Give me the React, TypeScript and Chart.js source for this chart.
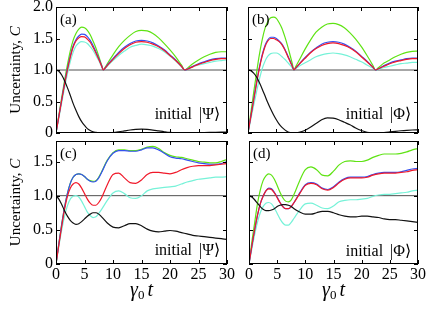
import React, { useEffect, useRef, useState } from "react";
import { Chart, registerables } from "chart.js";
Chart.register(...registerables);

const FONT = "'Liberation Serif', 'Times New Roman', Times, serif";

// ---------- data ----------
// panel (a): initial |Psi>
const tA = [0, 0.5, 1, 1.5, 2, 2.5, 3, 3.5, 4, 4.5, 5, 5.5, 6, 6.5, 7, 7.5, 8, 8.3, 8.6, 9, 10, 11, 12, 13, 14, 15, 16, 17, 18, 19, 20, 21, 22, 22.6, 23.2, 24, 25, 26, 27, 28, 29, 30];
const aGreen = [0, 0.28, 0.56, 0.83, 1.08, 1.3, 1.47, 1.58, 1.65, 1.68, 1.67, 1.63, 1.56, 1.46, 1.35, 1.22, 1.08, 1.0, 1.04, 1.1, 1.24, 1.37, 1.47, 1.55, 1.61, 1.63, 1.62, 1.58, 1.51, 1.42, 1.32, 1.21, 1.08, 1.0, 1.04, 1.1, 1.16, 1.21, 1.25, 1.28, 1.29, 1.29];
const aBlue = [0, 0.27, 0.53, 0.79, 1.02, 1.22, 1.38, 1.48, 1.54, 1.57, 1.565, 1.53, 1.47, 1.39, 1.29, 1.185, 1.07, 1.0, 1.03, 1.08, 1.18, 1.28, 1.36, 1.42, 1.46, 1.47, 1.46, 1.43, 1.38, 1.32, 1.24, 1.16, 1.06, 1.0, 1.02, 1.06, 1.1, 1.13, 1.16, 1.18, 1.19, 1.19];
const aRed = [0, 0.26, 0.52, 0.77, 1.0, 1.2, 1.36, 1.46, 1.51, 1.53, 1.525, 1.49, 1.44, 1.36, 1.27, 1.17, 1.065, 1.0, 1.03, 1.07, 1.17, 1.26, 1.34, 1.4, 1.44, 1.45, 1.44, 1.41, 1.37, 1.31, 1.23, 1.15, 1.06, 1.0, 1.02, 1.05, 1.09, 1.12, 1.15, 1.17, 1.18, 1.18];
const aCyan = [0, 0.24, 0.48, 0.72, 0.94, 1.13, 1.28, 1.38, 1.43, 1.45, 1.445, 1.42, 1.37, 1.31, 1.23, 1.15, 1.055, 1.0, 1.025, 1.06, 1.15, 1.23, 1.3, 1.36, 1.39, 1.41, 1.4, 1.38, 1.34, 1.29, 1.22, 1.14, 1.05, 1.0, 1.02, 1.05, 1.08, 1.1, 1.12, 1.14, 1.15, 1.16];
const aBlack = [1, 0.98, 0.92, 0.83, 0.72, 0.6, 0.47, 0.36, 0.26, 0.18, 0.12, 0.07, 0.04, 0.02, 0.01, 0.003, 0, 0, 0, 0.001, 0.006, 0.018, 0.033, 0.048, 0.058, 0.06, 0.056, 0.046, 0.033, 0.02, 0.009, 0.003, 0, 0, 0, 0.001, 0.003, 0.006, 0.009, 0.012, 0.014, 0.015];

// panel (b): initial |Phi>
const tB = [0, 0.5, 1, 1.5, 2, 2.5, 3, 3.5, 4, 4.5, 5, 5.5, 6, 6.5, 7, 7.5, 7.8, 8.1, 8.4, 9, 10, 11, 12, 13, 14, 15, 16, 17, 18, 19, 20, 21, 22, 22.5, 23, 24, 25, 26, 27, 28, 29, 30];
const bGreen = [0, 0.32, 0.64, 0.95, 1.24, 1.48, 1.66, 1.77, 1.83, 1.84, 1.82, 1.75, 1.66, 1.53, 1.38, 1.21, 1.107, 1.0, 1.05, 1.15, 1.32, 1.47, 1.6, 1.68, 1.73, 1.74, 1.72, 1.67, 1.59, 1.49, 1.37, 1.23, 1.08, 1.0, 1.035, 1.11, 1.16, 1.21, 1.25, 1.28, 1.295, 1.3];
const bBlue = [0, 0.27, 0.54, 0.8, 1.04, 1.24, 1.39, 1.48, 1.52, 1.52, 1.5, 1.46, 1.41, 1.33, 1.23, 1.13, 1.066, 1.0, 1.03, 1.09, 1.19, 1.28, 1.35, 1.41, 1.44, 1.45, 1.44, 1.41, 1.36, 1.3, 1.22, 1.14, 1.05, 1.0, 1.02, 1.07, 1.11, 1.14, 1.16, 1.18, 1.19, 1.19];
const bRed = [0, 0.26, 0.52, 0.78, 1.02, 1.22, 1.37, 1.46, 1.5, 1.5, 1.48, 1.45, 1.4, 1.32, 1.22, 1.12, 1.065, 1.0, 1.03, 1.09, 1.18, 1.27, 1.34, 1.39, 1.42, 1.43, 1.42, 1.39, 1.35, 1.29, 1.21, 1.13, 1.05, 1.0, 1.02, 1.06, 1.1, 1.13, 1.15, 1.17, 1.18, 1.18];
const bCyan = [0, 0.22, 0.44, 0.65, 0.85, 1.02, 1.14, 1.22, 1.26, 1.27, 1.27, 1.25, 1.21, 1.17, 1.12, 1.07, 1.035, 1.0, 1.02, 1.06, 1.11, 1.16, 1.21, 1.24, 1.26, 1.27, 1.26, 1.24, 1.21, 1.17, 1.13, 1.08, 1.03, 1.0, 1.01, 1.04, 1.06, 1.08, 1.1, 1.11, 1.12, 1.12];
const bBlack = [1, 0.99, 0.95, 0.89, 0.8, 0.7, 0.59, 0.48, 0.38, 0.29, 0.21, 0.14, 0.09, 0.05, 0.02, 0.006, 0.002, 0, 0.002, 0.01, 0.04, 0.09, 0.15, 0.21, 0.24, 0.235, 0.21, 0.17, 0.13, 0.08, 0.04, 0.012, 0.002, 0, 0.002, 0.008, 0.017, 0.027, 0.036, 0.043, 0.048, 0.05];

// panels (c) and (d)
const tCD = [0, 0.5, 1, 1.5, 2, 2.5, 3, 3.5, 4, 4.5, 5, 5.5, 6, 6.5, 7, 7.5, 8, 9, 10, 11, 12, 13, 14, 15, 16, 17, 18, 19, 20, 21, 22, 23, 24, 25, 26, 27, 28, 29, 30];
const cGreen = [0, 0.3, 0.58, 0.83, 1.03, 1.18, 1.27, 1.31, 1.32, 1.31, 1.28, 1.24, 1.22, 1.21, 1.22, 1.27, 1.35, 1.52, 1.63, 1.67, 1.67, 1.66, 1.66, 1.68, 1.71, 1.72, 1.69, 1.63, 1.59, 1.57, 1.56, 1.54, 1.52, 1.5, 1.49, 1.48, 1.48, 1.5, 1.53];
const cBlue = [0, 0.3, 0.58, 0.83, 1.03, 1.18, 1.27, 1.31, 1.32, 1.31, 1.28, 1.24, 1.21, 1.2, 1.21, 1.26, 1.34, 1.51, 1.62, 1.66, 1.66, 1.65, 1.65, 1.67, 1.7, 1.7, 1.67, 1.62, 1.57, 1.55, 1.54, 1.52, 1.5, 1.48, 1.47, 1.46, 1.46, 1.47, 1.5];
const cRed = [0, 0.28, 0.55, 0.8, 0.99, 1.11, 1.17, 1.19, 1.17, 1.11, 1.03, 0.95, 0.89, 0.86, 0.86, 0.9, 0.97, 1.16, 1.31, 1.33, 1.26, 1.19, 1.18, 1.23, 1.31, 1.34, 1.34, 1.33, 1.32, 1.34, 1.38, 1.41, 1.43, 1.44, 1.44, 1.44, 1.45, 1.46, 1.47];
const cCyan = [0, 0.26, 0.5, 0.7, 0.85, 0.95, 0.99, 1.0, 0.98, 0.92, 0.84, 0.76, 0.71, 0.68, 0.69, 0.74, 0.8, 0.93, 1.04, 1.07, 1.03, 0.97, 0.96, 1.0, 1.07, 1.1, 1.11, 1.12, 1.13, 1.14, 1.17, 1.2, 1.22, 1.24, 1.25, 1.26, 1.27, 1.27, 1.28];
const cBlack = [1, 0.95, 0.87, 0.78, 0.7, 0.64, 0.6, 0.58, 0.59, 0.62, 0.66, 0.7, 0.73, 0.75, 0.75, 0.73, 0.69, 0.6, 0.54, 0.53, 0.56, 0.59, 0.59, 0.56, 0.51, 0.48, 0.47, 0.48, 0.49, 0.48, 0.46, 0.44, 0.42, 0.41, 0.4, 0.39, 0.38, 0.37, 0.36];

const dGreen = [0, 0.32, 0.6, 0.88, 1.08, 1.22, 1.29, 1.32, 1.3, 1.24, 1.15, 1.05, 0.97, 0.92, 0.91, 0.94, 1.02, 1.22, 1.38, 1.42, 1.38, 1.3, 1.29, 1.36, 1.45, 1.5, 1.51, 1.5, 1.5, 1.52, 1.56, 1.59, 1.61, 1.61, 1.61, 1.62, 1.64, 1.67, 1.69];
const dBlue = [0, 0.26, 0.5, 0.71, 0.88, 0.99, 1.07, 1.11, 1.1, 1.05, 0.98, 0.9, 0.84, 0.81, 0.81, 0.84, 0.9, 1.04, 1.16, 1.19, 1.17, 1.11, 1.09, 1.13, 1.2, 1.25, 1.27, 1.27, 1.27, 1.28, 1.31, 1.33, 1.34, 1.34, 1.34, 1.35, 1.37, 1.39, 1.4];
const dRed = [0, 0.26, 0.5, 0.71, 0.88, 0.99, 1.07, 1.1, 1.09, 1.04, 0.97, 0.9, 0.84, 0.81, 0.81, 0.84, 0.9, 1.03, 1.15, 1.18, 1.16, 1.1, 1.08, 1.12, 1.19, 1.24, 1.26, 1.26, 1.26, 1.27, 1.3, 1.32, 1.33, 1.33, 1.33, 1.34, 1.35, 1.37, 1.38];
const dCyan = [0, 0.22, 0.43, 0.61, 0.75, 0.84, 0.89, 0.9, 0.88, 0.82, 0.74, 0.66, 0.6, 0.57, 0.57, 0.61, 0.67, 0.79, 0.88, 0.89, 0.86, 0.82, 0.81, 0.85, 0.91, 0.93, 0.94, 0.94, 0.95, 0.96, 0.99, 1.01, 1.02, 1.02, 1.03, 1.04, 1.05, 1.07, 1.08];
const dBlack = [1, 0.98, 0.94, 0.89, 0.84, 0.8, 0.78, 0.78, 0.79, 0.81, 0.84, 0.86, 0.87, 0.87, 0.86, 0.84, 0.81, 0.76, 0.73, 0.73, 0.75, 0.77, 0.77, 0.75, 0.72, 0.7, 0.69, 0.69, 0.7, 0.7, 0.69, 0.68, 0.66, 0.65, 0.65, 0.64, 0.63, 0.62, 0.61];

const xTicks = [0, 5, 10, 15, 20, 25, 30];
const yTicksTop = [0, 0.5, 1, 1.5, 2];
const yLabelsTop = ["0", "0.5", "1.0", "1.5", "2.0"];
const yTicksBottom = [0, 0.5, 1, 1.5];
const yLabelsBottom = ["0", "0.5", "1.0", "1.5"];
const refLevel = 1;
const panelLabels = ["(a)", "(b)", "(c)", "(d)"];
const stateNames = ["|Ψ⟩", "|Φ⟩", "|Ψ⟩", "|Φ⟩"];
const yTitle = "Uncertainty, ";
const yTitleVar = "C";

// ---------- styles ----------
const GREEN = "#5fe314";
const BLUE = "#3550f0";
const RED = "#f0192a";
const CYAN = "#76f2d8";
const BLACK = "#111111";
const REF = "#505050";

type Spec = {
  idx: number;
  left: number; top: number; width: number; height: number;
  pad: { left: number; top: number; right: number; bottom: number };
  t: number[];
  green: number[]; blue: number[]; red: number[]; cyan: number[]; black: number[];
  yMax: number; yTicks: number[]; yLabels: string[];
  showY: boolean; showX: boolean; stateOff: number;
};

const specs: Spec[] = [
  { idx: 0, left: 0, top: 0, width: 240, height: 137, pad: { left: 0, top: 7, right: 13, bottom: 4 },
    t: tA, green: aGreen, blue: aBlue, red: aRed, cyan: aCyan, black: aBlack,
    yMax: 2, yTicks: yTicksTop, yLabels: yLabelsTop, showY: true, showX: false, stateOff: 14 },
  { idx: 1, left: 232, top: 0, width: 199, height: 137, pad: { left: 16, top: 7, right: 13, bottom: 4 },
    t: tB, green: bGreen, blue: bBlue, red: bRed, cyan: bCyan, black: bBlack,
    yMax: 2, yTicks: yTicksTop, yLabels: yLabelsTop, showY: false, showX: false, stateOff: 14 },
  { idx: 2, left: 0, top: 137, width: 240, height: 174, pad: { left: 0, top: 4, right: 13, bottom: 27 },
    t: tCD, green: cGreen, blue: cBlue, red: cRed, cyan: cCyan, black: cBlack,
    yMax: 1.8, yTicks: yTicksBottom, yLabels: yLabelsBottom, showY: true, showX: true, stateOff: 9 },
  { idx: 3, left: 232, top: 137, width: 199, height: 174, pad: { left: 17, top: 4, right: 13, bottom: 27 },
    t: tCD, green: dGreen, blue: dBlue, red: dRed, cyan: dCyan, black: dBlack,
    yMax: 1.8, yTicks: yTicksBottom, yLabels: yLabelsBottom, showY: false, showX: true, stateOff: 8 },
];

function makeConfig(spec: Spec): any {
  const series = (vals: number[], color: string) => ({
    data: spec.t.map((x, i) => ({ x, y: vals[i] })),
    borderColor: color,
    borderWidth: 1.2,
    pointRadius: 0,
    fill: false,
    cubicInterpolationMode: "monotone",
  });
  const datasets = [
    series(spec.black, BLACK),
    series(spec.red, RED),
    series(spec.blue, BLUE),
    series(spec.cyan, CYAN),
    series(spec.green, GREEN),
    {
      data: [{ x: 0, y: refLevel }, { x: 30, y: refLevel }],
      borderColor: REF, borderWidth: 1, pointRadius: 0, fill: false, tension: 0,
    },
  ];

  const framePlugin = {
    id: "frame" + spec.idx,
    afterDraw(chart: any) {
      const { ctx, chartArea: ca, scales } = chart;
      const xs = scales.x, ys = scales.y;
      ctx.save();
      ctx.strokeStyle = "#000";
      ctx.lineWidth = 1;
      ctx.strokeRect(ca.left + 0.5, ca.top + 0.5, ca.right - ca.left - 1, ca.bottom - ca.top - 1);
      const L = 4;
      ctx.beginPath();
      for (const v of xTicks) {
        const px = Math.round(xs.getPixelForValue(v)) + 0.5;
        ctx.moveTo(px, ca.bottom); ctx.lineTo(px, ca.bottom - L);
        ctx.moveTo(px, ca.top); ctx.lineTo(px, ca.top + L);
      }
      for (const v of spec.yTicks) {
        const py = Math.round(ys.getPixelForValue(v)) + 0.5;
        ctx.moveTo(ca.left, py); ctx.lineTo(ca.left + L, py);
        ctx.moveTo(ca.right, py); ctx.lineTo(ca.right - L, py);
      }
      ctx.stroke();

      ctx.fillStyle = "#000";
      ctx.textBaseline = "alphabetic";
      ctx.textAlign = "left";
      ctx.font = `15px ${FONT}`;
      ctx.fillText(panelLabels[spec.idx], ca.left + 4, ca.top + 17);

      const baseY = ca.bottom - spec.stateOff;
      ctx.font = `16px ${FONT}`;
      ctx.textAlign = "right";
      const st = stateNames[spec.idx];
      const stW = ctx.measureText(st).width;
      ctx.fillText(st, ca.right - 7, baseY);
      ctx.fillText("initial", ca.right - 7 - stW - 7, baseY);

      if (spec.showY) {
        ctx.save();
        ctx.translate(19.5, (ca.top + ca.bottom) / 2);
        ctx.rotate(-Math.PI / 2);
        ctx.textAlign = "left";
        ctx.font = `15px ${FONT}`;
        const w1 = ctx.measureText(yTitle).width;
        ctx.font = `italic 15px ${FONT}`;
        const w2 = ctx.measureText(yTitleVar).width;
        const x0 = -(w1 + w2) / 2;
        ctx.font = `15px ${FONT}`;
        ctx.fillText(yTitle, x0, 0);
        ctx.font = `italic 15px ${FONT}`;
        ctx.fillText(yTitleVar, x0 + w1, 0);
        ctx.restore();
      }

      if (spec.showX) {
        ctx.textAlign = "left";
        const by = ca.bottom + 32;
        ctx.font = `italic 20px ${FONT}`;
        const wg = ctx.measureText("γ").width;
        const wt = ctx.measureText("t").width;
        ctx.font = `13px ${FONT}`;
        const w0 = ctx.measureText("0").width;
        const total = wg + w0 + 3 + wt;
        let x = (ca.left + ca.right) / 2 - total / 2;
        ctx.font = `italic 20px ${FONT}`;
        ctx.fillText("γ", x, by);
        x += wg;
        ctx.font = `13px ${FONT}`;
        ctx.fillText("0", x, by + 3);
        x += w0 + 3;
        ctx.font = `italic 20px ${FONT}`;
        ctx.fillText("t", x, by);
      }
      ctx.restore();
    },
  };

  return {
    type: "line",
    data: { datasets },
    options: {
      animation: false,
      responsive: false,
      maintainAspectRatio: false,
      devicePixelRatio: 1,
      events: [],
      layout: { padding: spec.pad },
      plugins: { legend: { display: false }, tooltip: { enabled: false }, title: { display: false } },
      scales: {
        x: {
          type: "linear", min: 0, max: 30, display: true,
          grid: { display: false, drawTicks: false },
          border: { display: false },
          ticks: {
            display: spec.showX, color: "#000", padding: 1, maxRotation: 0, autoSkip: false,
            font: { family: FONT, size: 16 },
            callback: (v: number) => String(v),
          },
          afterBuildTicks: (s: any) => { s.ticks = xTicks.map((v) => ({ value: v })); },
          afterFit: (s: any) => { s.height = spec.showX ? 20 : 0; s.paddingLeft = 0; s.paddingRight = 0; },
        },
        y: {
          type: "linear", min: 0, max: spec.yMax, display: true,
          grid: { display: false, drawTicks: false },
          border: { display: false },
          ticks: {
            display: spec.showY, color: "#000", padding: 3, autoSkip: false,
            font: { family: FONT, size: 16 },
            callback: (_v: number, i: number) => spec.yLabels[i] ?? "",
          },
          afterBuildTicks: (s: any) => { s.ticks = spec.yTicks.map((v) => ({ value: v })); },
          afterFit: (s: any) => { s.width = spec.showY ? 56 : 0; s.paddingTop = 0; s.paddingBottom = 0; },
        },
      },
    },
    plugins: [framePlugin],
  };
}

function Panel({ spec, ready }: { spec: Spec; ready: boolean }) {
  const ref = useRef<HTMLCanvasElement>(null);
  useEffect(() => {
    if (!ready) return;
    const chart = new Chart(ref.current as HTMLCanvasElement, makeConfig(spec));
    return () => chart.destroy();
  }, [spec, ready]);
  return (
    <canvas
      ref={ref}
      width={spec.width}
      height={spec.height}
      style={{ position: "absolute", left: spec.left, top: spec.top, width: spec.width, height: spec.height }}
    />
  );
}

export default function App() {
  const [ready, setReady] = useState(false);
  useEffect(() => {
    let done = false;
    const finish = () => { if (!done) { done = true; setReady(true); } };
    const fonts: any = (document as any).fonts;
    if (fonts && fonts.load) {
      Promise.all([
        fonts.load(`15px 'Liberation Serif'`),
        fonts.load(`italic 15px 'Liberation Serif'`),
      ]).then(finish, finish);
      setTimeout(finish, 1500);
    } else {
      finish();
    }
  }, []);
  return (
    <div style={{ position: "fixed", left: 0, top: 0, width: 431, height: 311, background: "#fff", overflow: "hidden" }}>
      <span style={{ position: "absolute", left: -1000, top: 0, fontFamily: FONT }}>initial <i>C</i></span>
      {specs.map((s) => (
        <Panel key={s.idx} spec={s} ready={ready} />
      ))}
    </div>
  );
}
